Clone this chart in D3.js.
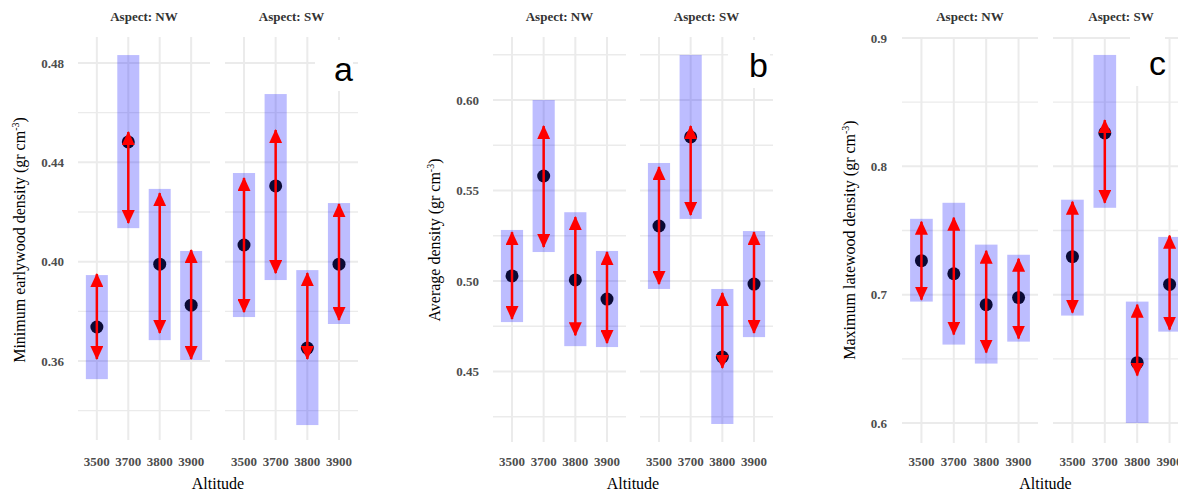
<!DOCTYPE html>
<html>
<head>
<meta charset="utf-8">
<script src="https://cdn.jsdelivr.net/npm/d3@7"></script>
<style>
  body { margin: 0; background: #fff; }
  svg { display: block; }
</style>
</head>
<body>
<div id="chart"></div>
<script>
// categories
const altitudes = ["3500", "3700", "3800", "3900"];
const aspects = ["NW", "SW"];

// panel a: minimum earlywood density
const minEwMean  = { NW: [0.3737, 0.4482, 0.3990, 0.3825], SW: [0.4067, 0.4305, 0.3652, 0.3990] };
const minEwBarLo = { NW: [0.3527, 0.4135, 0.3684, 0.3604], SW: [0.3777, 0.3926, 0.3342, 0.3749] };
const minEwBarHi = { NW: [0.3946, 0.4832, 0.4293, 0.4043], SW: [0.4357, 0.4675, 0.3966, 0.4236] };
const minEwArrLo = { NW: [0.3608, 0.4156, 0.3713, 0.3608], SW: [0.3797, 0.3954, 0.3608, 0.3765] };
const minEwArrHi = { NW: [0.3950, 0.4522, 0.4276, 0.4047], SW: [0.4337, 0.4530, 0.3954, 0.4232] };

// panel b: average density
const avgMean  = { NW: [0.5028, 0.5580, 0.5006, 0.4900], SW: [0.5304, 0.5796, 0.4580, 0.4983] };
const avgBarLo = { NW: [0.4773, 0.5160, 0.4640, 0.4635], SW: [0.4956, 0.5343, 0.4210, 0.4690] };
const avgBarHi = { NW: [0.5282, 0.6000, 0.5380, 0.5166], SW: [0.5652, 0.6249, 0.4956, 0.5276] };
const avgArrLo = { NW: [0.4790, 0.5188, 0.4700, 0.4657], SW: [0.4983, 0.5365, 0.4520, 0.4713] };
const avgArrHi = { NW: [0.5270, 0.5856, 0.5353, 0.5160], SW: [0.5630, 0.5856, 0.4934, 0.5270] };

// panel c: maximum latewood density
const maxLwMean  = { NW: [0.7265, 0.7163, 0.6922, 0.6977], SW: [0.7296, 0.8260, 0.6470, 0.7080] };
const maxLwBarLo = { NW: [0.6946, 0.6611, 0.6463, 0.6634], SW: [0.6837, 0.7677, 0.6000, 0.6712] };
const maxLwBarHi = { NW: [0.7591, 0.7716, 0.7390, 0.7311], SW: [0.7740, 0.8868, 0.6946, 0.7450] };
const maxLwArrLo = { NW: [0.6961, 0.6689, 0.6549, 0.6658], SW: [0.6860, 0.7716, 0.6370, 0.6728] };
const maxLwArrHi = { NW: [0.7568, 0.7600, 0.7342, 0.7280], SW: [0.7724, 0.8360, 0.6922, 0.7460] };

// tick values
const ticksA = { major: [0.36, 0.40, 0.44, 0.48], minor: [0.34, 0.38, 0.42, 0.46] };
const ticksB = { major: [0.45, 0.50, 0.55, 0.60], minor: [0.425, 0.475, 0.525, 0.575, 0.625] };
const ticksC = { major: [0.6, 0.7, 0.8, 0.9], minor: [0.65, 0.75, 0.85] };

const W = 1178, H = 493;
const serif = "'Liberation Serif', 'Times New Roman', serif";

const panels = [
  { letter: "a", title: "Minimum earlywood density", ticks: ticksA, fmt: d3.format(".2f"),
    mean: minEwMean, barLo: minEwBarLo, barHi: minEwBarHi, arrLo: minEwArrLo, arrHi: minEwArrHi,
    facets: [[78, 210], [225, 358]], top: 37, bottom: 440, yDom: [0.36, 0.48], yRange: [361, 63],
    titleX: 19, tickX: 64, letterPos: [334, 81], patch: [315, 40, 38, 51] },
  { letter: "b", title: "Average density", ticks: ticksB, fmt: d3.format(".2f"),
    mean: avgMean, barLo: avgBarLo, barHi: avgBarHi, arrLo: avgArrLo, arrHi: avgArrHi,
    facets: [[493, 626], [640, 773]], top: 37, bottom: 442, yDom: [0.45, 0.60], yRange: [371.5, 100],
    titleX: 434, tickX: 479, letterPos: [749, 77], patch: [728, 40, 42, 48] },
  { letter: "c", title: "Maximum latewood density", ticks: ticksC, fmt: d3.format(".1f"),
    mean: maxLwMean, barLo: maxLwBarLo, barHi: maxLwBarHi, arrLo: maxLwArrLo, arrHi: maxLwArrHi,
    facets: [[902, 1038], [1053, 1189]], top: 37, bottom: 443, yDom: [0.6, 0.9], yRange: [423, 38],
    titleX: 849, tickX: 887, letterPos: [1149, 75], patch: [1130, 34, 35, 52] }
];

const svg = d3.select("#chart").append("svg").attr("width", W).attr("height", H);

const defs = svg.append("defs");
defs.append("marker")
  .attr("id", "head")
  .attr("viewBox", "0 0 14 13")
  .attr("refX", 13).attr("refY", 6.5)
  .attr("markerUnits", "userSpaceOnUse")
  .attr("markerWidth", 14).attr("markerHeight", 13)
  .attr("orient", "auto-start-reverse")
  .append("path")
  .attr("d", "M0,0 L14,6.5 L0,13 Z")
  .attr("fill", "#ff0000");

function drawPanel(p){
  const g = svg.append("g");
  const y = d3.scaleLinear().domain(p.yDom).range(p.yRange);

  aspects.forEach((asp, fi) => {
    const [x0, x1] = p.facets[fi];
    const x = d3.scalePoint().domain(altitudes).range([x0, x1]).padding(0.6);
    const bw = x.step() * 0.7;
    const fg = g.append("g");

    // grid
    fg.selectAll(".minor").data(p.ticks.minor).join("line")
      .attr("x1", x0).attr("x2", x1)
      .attr("y1", d => y(d)).attr("y2", d => y(d))
      .attr("stroke", "#ebebeb").attr("stroke-width", 1.4);
    fg.selectAll(".major").data(p.ticks.major).join("line")
      .attr("x1", x0).attr("x2", x1)
      .attr("y1", d => y(d)).attr("y2", d => y(d))
      .attr("stroke", "#ebebeb").attr("stroke-width", 2);
    fg.selectAll(".vgrid").data(altitudes).join("line")
      .attr("x1", d => x(d)).attr("x2", d => x(d))
      .attr("y1", p.top).attr("y2", p.bottom)
      .attr("stroke", "#ebebeb").attr("stroke-width", 2);

    const rows = altitudes.map((a, i) => ({
      alt: a, mean: p.mean[asp][i], lo: p.barLo[asp][i], hi: p.barHi[asp][i],
      alo: p.arrLo[asp][i], ahi: p.arrHi[asp][i]
    }));

    fg.selectAll(".bar").data(rows).join("rect")
      .attr("x", d => x(d.alt) - bw / 2).attr("width", bw)
      .attr("y", d => y(d.hi)).attr("height", d => y(d.lo) - y(d.hi))
      .attr("fill", "#0000ff").attr("fill-opacity", 0.26);

    fg.selectAll(".pt").data(rows).join("circle")
      .attr("cx", d => x(d.alt)).attr("cy", d => y(d.mean)).attr("r", 6.5)
      .attr("fill", "#0a0a35");

    fg.selectAll(".arr").data(rows).join("line")
      .attr("x1", d => x(d.alt)).attr("x2", d => x(d.alt))
      .attr("y1", d => y(d.alo)).attr("y2", d => y(d.ahi))
      .attr("stroke", "#ff0000").attr("stroke-width", 2.5)
      .attr("marker-start", "url(#head)").attr("marker-end", "url(#head)");

    // x tick labels
    fg.selectAll(".xt").data(altitudes).join("text")
      .attr("x", d => x(d)).attr("y", 466)
      .attr("text-anchor", "middle")
      .style("font-family", serif).style("font-weight", "bold")
      .style("font-size", "13px").attr("fill", "#4d4d4d")
      .text(d => d);

    // strip
    fg.append("text")
      .attr("x", (x0 + x1) / 2).attr("y", 21)
      .attr("text-anchor", "middle")
      .style("font-family", serif).style("font-weight", "bold")
      .style("font-size", "13px").attr("fill", "#333")
      .text("Aspect: " + asp);
  });

  // y tick labels
  g.selectAll(".yt").data(p.ticks.major).join("text")
    .attr("x", p.tickX).attr("y", d => y(d)).attr("dy", "0.35em")
    .attr("text-anchor", "end")
    .style("font-family", serif).style("font-weight", "bold")
    .style("font-size", "13px").attr("fill", "#4d4d4d")
    .text(d => p.fmt(d));

  // y title
  const yt = g.append("text")
    .attr("transform", `translate(${p.titleX},240) rotate(-90)`)
    .attr("text-anchor", "middle").attr("dy", "0.35em")
    .style("font-family", serif).style("font-size", "16px").attr("fill", "#000");
  yt.append("tspan").text(p.title + " (gr cm");
  yt.append("tspan").attr("dy", -6).style("font-size", "10px").text("-3");
  yt.append("tspan").attr("dy", 6).text(")");

  // x title
  g.append("text")
    .attr("x", (p.facets[0][0] + p.facets[1][1]) / 2).attr("y", 489)
    .attr("text-anchor", "middle")
    .style("font-family", serif).style("font-size", "16px").attr("fill", "#000")
    .text("Altitude");

  // pasted panel letter on white patch
  g.append("rect")
    .attr("x", p.patch[0]).attr("y", p.patch[1])
    .attr("width", p.patch[2]).attr("height", p.patch[3])
    .attr("fill", "#fff");
  g.append("text")
    .attr("x", p.letterPos[0]).attr("y", p.letterPos[1])
    .style("font-family", "'Liberation Sans', Arial, sans-serif")
    .style("font-size", "34px").attr("fill", "#000")
    .text(p.letter);
}

panels.forEach(drawPanel);
</script>
</body>
</html>
